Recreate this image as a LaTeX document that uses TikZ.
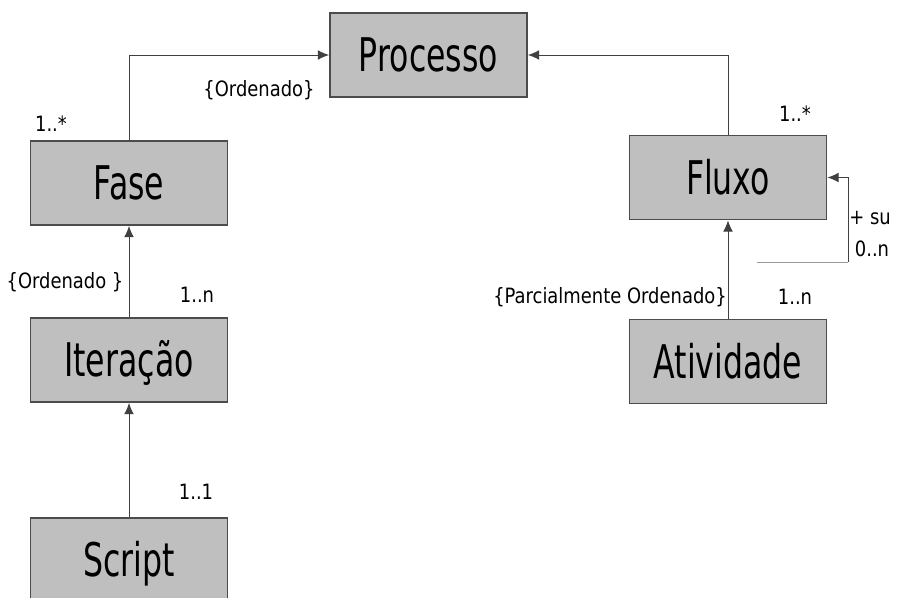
\documentclass[tikz,border=0pt]{standalone}
\usepackage{fontspec}
\newfontfamily\caixafont[FakeStretch=0.68]{DejaVu Sans}
\newfontfamily\rotulofont[FakeStretch=0.85]{DejaVu Sans}
\usetikzlibrary{arrows.meta}

\begin{document}
\begin{tikzpicture}[x=0.025cm,y=-0.025cm,node distance=4.425cm,>={Latex[length=8pt,width=7pt]}]
    \tikzstyle{classe}=[rectangle,draw=black!70,line width=1.3pt,fill=black!25,
    minimum width=4.925cm,minimum height=2.1cm,text height=24pt,text depth=0pt,
    font=\caixafont\fontsize{33}{36}\selectfont]
    \tikzstyle{rotulo}=[inner sep=0pt,font=\rotulofont\fontsize{15}{17}\selectfont]
    \tikzstyle{assoc}=[draw=black!75,line width=0.7pt]

    \useasboundingbox (0,0) rectangle (901,598);
    \clip (0,0) rectangle (901,598);

    \node [classe] (processo) at (428.5,55) {Processo};
    \node [classe] (fase) at (129,183) {Fase};
    \node [classe] (iteracao) [below of=fase] {Iteração};
    \node [classe] (script) [below of=iteracao,node distance=5cm] {Script};
    \node [classe] (fluxo) at (728,177.5) {Fluxo};
    \node [classe] (atividade) [below of=fluxo,node distance=4.6cm] {Atividade};

    \node [rotulo] (mfase) at (51,124) {1..*};
    \node [rotulo] (ordfase) at (259,90) {\{Ordenado\}};
    \node [rotulo] (mfluxo) at (795,114) {1..*};
    \node [rotulo] (orditer) at (65,282) {\{Ordenado \}};
    \node [rotulo] (miter) at (197,295) {1..n};
    \node [rotulo] (mscript) at (196,492) {1..1};
    \node [rotulo] (ordativ) at (610,297) {\{Parcialmente Ordenado\}};
    \node [rotulo] (mativ) at (795,297) {1..n};
    \node [rotulo,anchor=west] (papelsub) at (849,218) {+ su};
    \node [rotulo] (msub) at (872,249) {0..n};

    \draw [assoc,->] (fase.north) |- (processo.west);
    \draw [assoc,->] (fluxo.north) |- (processo.east);
    \draw [assoc,->] (iteracao) -- (fase);
    \draw [assoc,->] (script) -- (iteracao);
    \draw [assoc,->] (atividade) -- (fluxo);

    \coordinate (subini) at (757,262);
    \coordinate (subcanto) at (848,262);
    \draw [assoc,draw=black!40] (subini) -- (subcanto);
    \draw [assoc,->] (subcanto) |- (fluxo.east);

\end{tikzpicture}
\end{document}
